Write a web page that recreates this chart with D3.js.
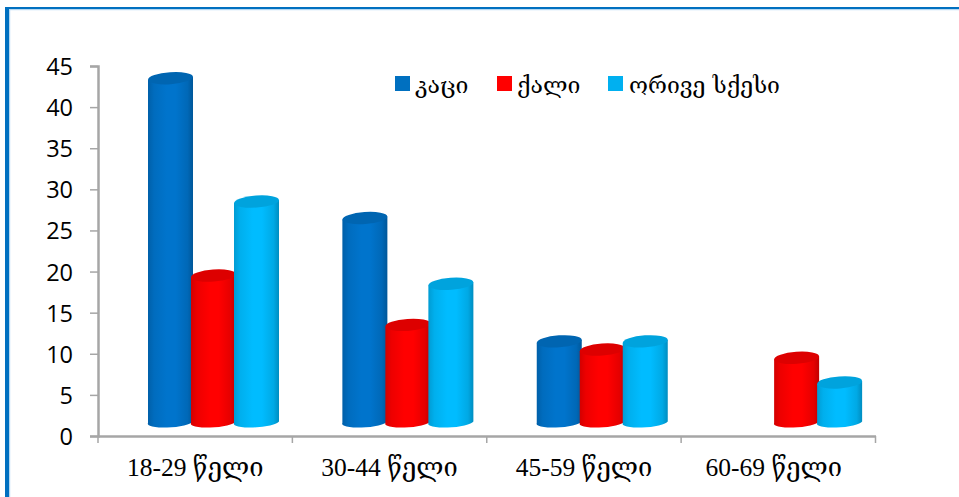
<!DOCTYPE html>
<html>
<head>
<meta charset="utf-8">
<script src="https://cdn.jsdelivr.net/npm/d3@7/dist/d3.min.js"></script>
<style>
html,body{margin:0;padding:0;background:#fff;}
svg{display:block;}
</style>
</head>
<body>
<script>
const ageGroups = ["18-29 წელი", "30-44 წელი", "45-59 წელი", "60-69 წელი"];
const seriesNames = ["კაცი", "ქალი", "ორივე სქესი"];
const menValues = [43, 26, 11, 0];
const womenValues = [19, 13, 10, 9];
const bothValues = [28, 18, 11, 6];
const seriesColors = ["#0070c0", "#ff0000", "#00b0f0"];
const highlightColors = ["#0074cc", "#ff0000", "#00bcff"];
const valueTicks = [0, 5, 10, 15, 20, 25, 30, 35, 40, 45];

const width = 959, height = 497;
const svg = d3.select("body").append("svg").attr("width", width).attr("height", height);
const defs = svg.append("defs");

// Horizontal shading that gives each column its rounded look
highlightColors.forEach((c, i) => {
  const base = d3.rgb(c);
  const g = defs.append("linearGradient").attr("id", "body" + i);
  [[0, base.darker(0.55)], [0.14, base.darker(0.2)], [0.42, base], [0.62, base],
   [0.88, base.darker(0.3)], [1, base.darker(0.8)]].forEach(([o, col]) =>
    g.append("stop").attr("offset", o).attr("stop-color", col));
});

// Chart frame: left and top rules with a pale inner edge
svg.append("rect").attr("x", 9).attr("y", 9).attr("width", 1.2).attr("height", height).attr("fill", "#b5d8f2");
svg.append("rect").attr("x", 9).attr("y", 9).attr("width", width).attr("height", 1.2).attr("fill", "#b5d8f2");
svg.append("rect").attr("x", 5).attr("y", 7).attr("width", 4).attr("height", height).attr("fill", "#0070c0");
svg.append("rect").attr("x", 5).attr("y", 7).attr("width", width).attr("height", 2).attr("fill", "#0070c0");

const x0 = d3.scaleBand().domain(ageGroups).range([98, 875.5]);
const x1 = d3.scaleBand().domain(d3.range(3)).range([50, 179]);
const y = d3.scaleLinear().domain([0, 45]).range([436, 66]);

const axisColor = "#a6a6a6";

// Value axis
const yAxis = svg.append("g").attr("transform", "translate(98,0)")
  .call(d3.axisLeft(y).tickValues(valueTicks).tickSize(8).tickPadding(17).tickFormat(d3.format("d")));
yAxis.selectAll("text").attr("transform", "translate(0,1)");
// Category axis
const xAxis = svg.append("g").attr("transform", "translate(0,436)")
  .call(d3.axisBottom(x0).tickSize(0).tickPadding(22));
xAxis.selectAll(".tick").attr("transform", d => `translate(${x0(d) + x0.bandwidth() / 2},0)`);
// The last category label sits a little left of its band centre
xAxis.selectAll(".tick text").attr("dx", (d, i) => i === ageGroups.length - 1 ? -4.5 : 0);
const boundaries = ageGroups.map(d => x0(d)).concat(x0.range()[1]);
xAxis.selectAll(".boundary").data(boundaries).join("line").attr("class", "boundary")
  .attr("x1", d => d).attr("x2", d => d).attr("y1", 0).attr("y2", 7);

[yAxis, xAxis].forEach(a => {
  a.selectAll("path.domain").attr("stroke", axisColor).attr("stroke-width", 2.5);
  a.selectAll("line").attr("stroke", axisColor).attr("stroke-width", 1.5);
  a.selectAll("text").attr("fill", "#000");
});
yAxis.selectAll("text").style("font-family", "'Open Sans', 'DejaVu Sans', sans-serif").style("font-size", "23.5px");
xAxis.selectAll("text").style("font-family", "'Liberation Serif', 'DejaVu Serif', serif").style("font-size", "25.5px");

// Cylinders
const seriesValues = [menValues, womenValues, bothValues];
const floorY = 423, floorRy = 5, topRy = 6, topLift = 4.2, tilt = -4;
const columns = svg.append("g");
seriesValues.forEach((vals, s) => {
  const bw = x1.bandwidth() + 2;
  const cols = columns.append("g").selectAll("g")
    .data(vals.map((v, i) => ({ v, cat: ageGroups[i] })).filter(d => d.v > 0))
    .join("g")
    .attr("transform", d => `translate(${x0(d.cat) + x1(s)},0)`);
  cols.append("path")
    .attr("fill", `url(#body${s})`)
    .attr("d", d => {
      const top = y(d.v) - topLift;
      return `M0,${top + 1.5}V${floorY}A${bw / 2},${floorRy} ${tilt} 0 0 ${bw},${floorY - 1.5}V${top - 1.5}Z`;
    });
  cols.append("ellipse")
    .attr("cx", bw / 2).attr("cy", d => y(d.v) - topLift)
    .attr("rx", bw / 2).attr("ry", topRy)
    .attr("transform", d => `rotate(${tilt} ${bw / 2} ${y(d.v) - topLift})`)
    .attr("fill", d3.rgb(highlightColors[s]).darker(0.4));
});

// Legend
const legendX = [395, 497, 608];
const legend = svg.append("g").selectAll("g").data(seriesNames).join("g")
  .attr("transform", (d, i) => `translate(${legendX[i]},76)`);
legend.append("rect").attr("width", 15).attr("height", 15).attr("fill", (d, i) => seriesColors[i]);
legend.append("text").attr("x", (d, i) => i === 2 ? 21 : 20).attr("y", 17).text(d => d)
  .style("font-family", "'DejaVu Serif', 'DejaVu Sans', serif").style("font-size", "23px").attr("fill", "#000");
</script>
</body>
</html>
